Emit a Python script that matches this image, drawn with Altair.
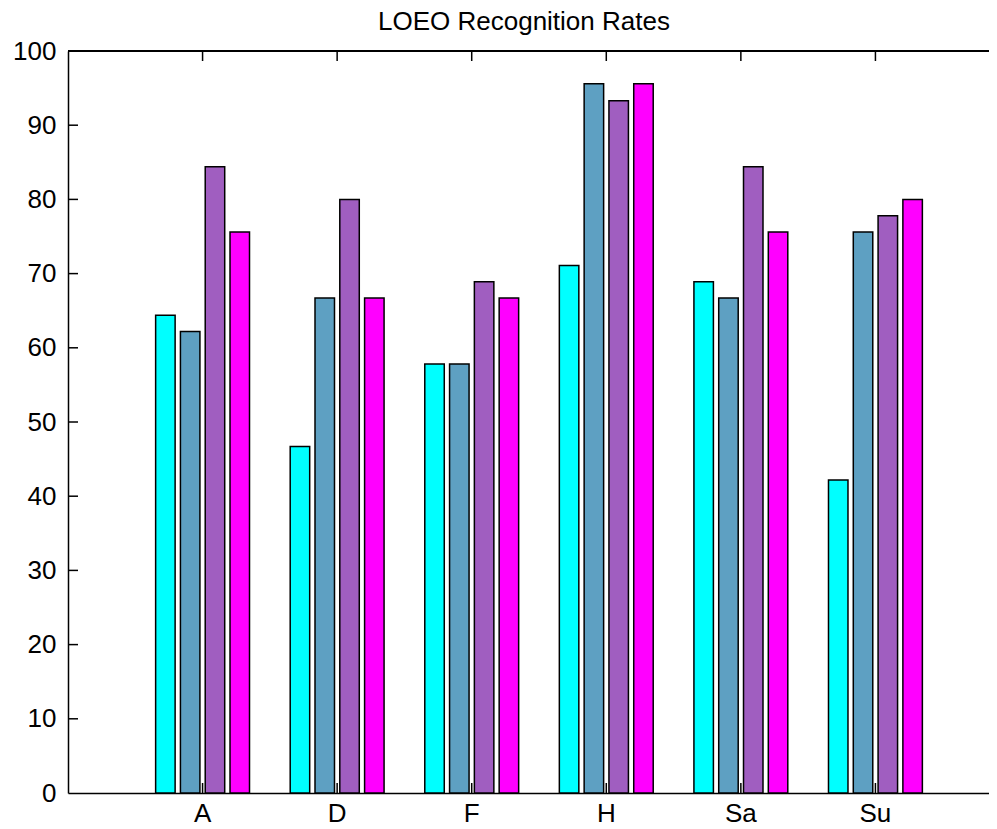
import altair as alt
import pandas as pd

categories = ["A", "D", "F", "H", "Sa", "Su"]
series_names = ["Series 1", "Series 2", "Series 3", "Series 4"]
s1 = [64.4, 46.7, 57.8, 71.1, 68.9, 42.2]
s2 = [62.2, 66.7, 57.8, 95.6, 66.7, 75.6]
s3 = [84.4, 80.0, 68.9, 93.3, 84.4, 77.8]
s4 = [75.6, 66.7, 66.7, 95.6, 75.6, 80.0]
colors = ["#00FFFF", "#5EA0C2", "#A05EC0", "#FF00FF"]
y_ticks = [0, 10, 20, 30, 40, 50, 60, 70, 80, 90, 100]

rows = []
for name, vals in zip(series_names, [s1, s2, s3, s4]):
    for c, v in zip(categories, vals):
        rows.append({"cat": c, "series": name, "value": v})
df = pd.DataFrame(rows)

FONT = "Liberation Sans"
PW, PH = 921, 742
RANGE_W = 942
pi = 0.263
xscale = alt.Scale(domain=categories, range=[0, RANGE_W],
                   paddingInner=pi, paddingOuter=(1 + pi) / 2)
yscale = alt.Scale(domain=[0, 100], nice=False, zero=True)

x_axis = alt.Axis(title=None, labelAngle=0, ticks=False, tickSize=0,
                  labelPadding=7, labelFontSize=26, labelFont=FONT,
                  labelColor="black", domainColor="black", domainWidth=1.5,
                  grid=False)
y_axis = alt.Axis(values=y_ticks, title=None, ticks=False, tickSize=0,
                  labelPadding=12, labelFontSize=26, labelFont=FONT,
                  labelColor="black", domainColor="black", domainWidth=1.5,
                  grid=False)

bars = alt.Chart(df).mark_bar(stroke="black", strokeWidth=1.5).encode(
    x=alt.X("cat:N", scale=xscale, sort=categories, axis=x_axis),
    xOffset=alt.XOffset("series:N", sort=series_names,
                        scale=alt.Scale(paddingInner=0.214, paddingOuter=0.107)),
    y=alt.Y("value:Q", scale=yscale, axis=y_axis),
    color=alt.Color("series:N", scale=alt.Scale(domain=series_names, range=colors),
                    legend=None),
)

ytick_df = pd.DataFrame({"v": y_ticks[1:-1]})
yticks = alt.Chart(ytick_df).mark_rule(color="black", strokeWidth=1.5).encode(
    y=alt.Y("v:Q", scale=yscale, axis=y_axis),
    x=alt.value(0), x2=alt.value(10),
)

cat_df = pd.DataFrame({"cat": categories})
xticks_top = alt.Chart(cat_df).mark_rule(color="black", strokeWidth=1.5).encode(
    x=alt.X("cat:N", scale=xscale, sort=categories, axis=x_axis),
    y=alt.value(0), y2=alt.value(10),
)
xticks_bot = alt.Chart(cat_df).mark_rule(color="black", strokeWidth=1.5).encode(
    x=alt.X("cat:N", scale=xscale, sort=categories, axis=x_axis),
    y=alt.value(PH - 10), y2=alt.value(PH),
)

top_border = alt.Chart(cat_df).mark_rule(color="black", strokeWidth=1.5).encode(
    x=alt.value(0), x2=alt.value(PW), y=alt.value(0),
)

chart = alt.layer(top_border, yticks, xticks_top, xticks_bot, bars).properties(
    width=PW, height=PH,
    background="white",
    title=alt.TitleParams("LOEO Recognition Rates", anchor="start", frame="group",
                          dx=310, offset=-18, fontSize=26, font=FONT,
                          fontWeight="normal", color="black", baseline="alphabetic"),
    autosize=alt.AutoSizeParams(type="none"),
    padding={"left": 60, "top": 43, "right": 0, "bottom": 36},
).configure_view(stroke=None)

chart.save("out.html", embed_options={"renderer": "svg", "actions": False})
